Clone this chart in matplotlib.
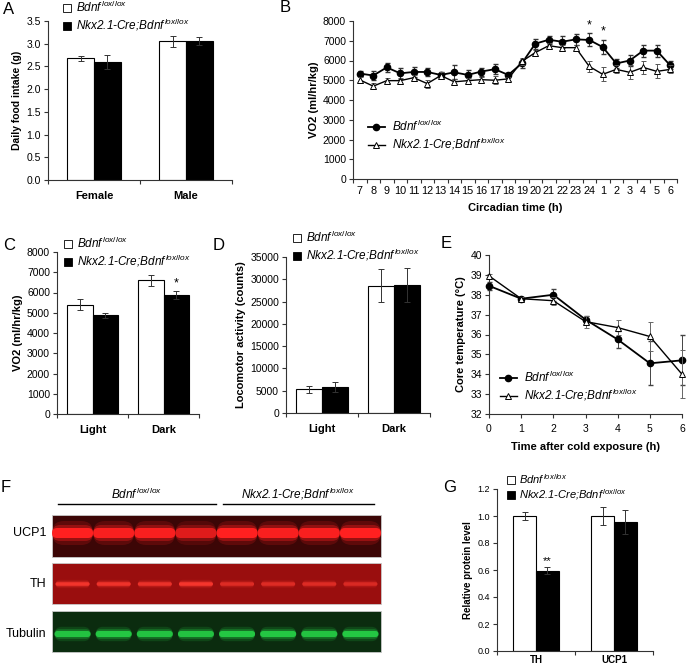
import numpy as np
import matplotlib
matplotlib.use('Agg')
import matplotlib.pyplot as plt
from matplotlib.lines import Line2D
from matplotlib.patches import Rectangle, FancyBboxPatch

plt.rcParams['font.family'] = ['Liberation Sans', 'DejaVu Sans']
plt.rcParams['mathtext.fontset'] = 'custom'
plt.rcParams['mathtext.rm'] = 'Liberation Sans'
plt.rcParams['mathtext.it'] = 'Liberation Sans:italic'
plt.rcParams['mathtext.bf'] = 'Liberation Sans:bold'
plt.rcParams['mathtext.default'] = 'it'

WT = 'Bdnf$^{\\,lox/lox}$'
KO = 'Nkx2.1-Cre;Bdnf$^{\\,lox/lox}$'

# A - daily food intake
food_groups = ['Female', 'Male']
food_wt = [2.68, 3.05]
food_wt_err = [0.06, 0.12]
food_ko = [2.60, 3.06]
food_ko_err = [0.16, 0.09]

# B - VO2 over circadian time
circ_hours = ['7', '8', '9', '10', '11', '12', '13', '14', '15', '16', '17', '18',
              '19', '20', '21', '22', '23', '24', '1', '2', '3', '4', '5', '6']
vo2_wt = [5340, 5240, 5650, 5350, 5420, 5420, 5270, 5400, 5270, 5440, 5560, 5270,
          5850, 6850, 7050, 6950, 7070, 7040, 6680, 5850, 6000, 6500, 6500, 5750]
vo2_wt_err = [150, 250, 230, 280, 250, 200, 150, 350, 250, 200, 250, 120,
              250, 250, 200, 300, 280, 330, 350, 250, 300, 300, 300, 200]
vo2_ko = [5020, 4700, 4980, 4980, 5130, 4830, 5240, 4920, 4980, 5030, 5000, 5070,
          5950, 6400, 6750, 6650, 6650, 5700, 5300, 5550, 5400, 5650, 5450, 5550]
vo2_ko_err = [150, 150, 120, 150, 150, 200, 200, 150, 150, 150, 200, 100,
              200, 150, 150, 150, 150, 300, 350, 200, 350, 350, 350, 200]
vo2_sig = ['24', '1']

# C - VO2 light / dark
periods = ['Light', 'Dark']
vo2_mean_wt = [5400, 6600]
vo2_mean_wt_err = [280, 280]
vo2_mean_ko = [4880, 5870]
vo2_mean_ko_err = [130, 180]

# D - locomotor activity
loco_wt = [5300, 28600]
loco_wt_err = [800, 3600]
loco_ko = [5800, 28700]
loco_ko_err = [1100, 3900]

# E - core temperature after cold exposure
cold_hours = [0, 1, 2, 3, 4, 5, 6]
temp_wt = [38.45, 37.8, 38.0, 36.75, 35.75, 34.55, 34.7]
temp_wt_err = [0.2, 0.1, 0.3, 0.2, 0.45, 1.1, 1.25]
temp_ko = [38.95, 37.8, 37.7, 36.65, 36.35, 35.9, 34.0]
temp_ko_err = [0.1, 0.1, 0.2, 0.3, 0.4, 0.75, 1.2]

# F - western blot band intensities (8 lanes)
blot_rows = ['UCP1', 'TH', 'Tubulin']
ucp1_bands = [1.0, 0.95, 0.95, 0.75, 1.0, 0.95, 0.95, 1.0]
th_bands = [0.8, 0.75, 0.7, 0.85, 0.55, 0.55, 0.55, 0.5]
tubulin_bands = [0.9, 0.95, 0.9, 0.9, 0.95, 0.95, 0.9, 0.95]

# G - relative protein level
proteins = ['TH', 'UCP1']
prot_wt = [1.0, 1.0]
prot_wt_err = [0.03, 0.065]
prot_ko = [0.595, 0.955]
prot_ko_err = [0.025, 0.09]

W, H = 688, 667
fig = plt.figure(figsize=(W / 100, H / 100), dpi=100)


def box(x0, y0, x1, y1):
    return [x0 / W, 1 - y1 / H, (x1 - x0) / W, (y1 - y0) / H]


def fpt(x, y):
    return (x / W, 1 - y / H)


def style(ax):
    for s in ['top', 'right']:
        ax.spines[s].set_visible(False)
    for s in ['left', 'bottom']:
        ax.spines[s].set_color('#333333')
        ax.spines[s].set_linewidth(0.8)
    ax.tick_params(axis='both', labelsize=7.5, direction='out', length=3,
                   width=0.8, color='#333333', pad=2)


def add_legend(ax, handles, x, y, size=8.5, hlen=0.7, hpad=0.4):
    ax.legend(handles, [WT, KO], loc='upper left', bbox_to_anchor=fpt(x, y),
              bbox_transform=fig.transFigure, frameon=False,
              prop={'size': size, 'style': 'italic'},
              handlelength=hlen, handletextpad=hpad, labelspacing=0.15,
              borderpad=0, borderaxespad=0)


def square_legend(ax, x, y, size=8.5):
    hs = [Line2D([], [], marker='s', ls='none', mfc='white', mec='black', ms=5.5, mew=0.6),
          Line2D([], [], marker='s', ls='none', mfc='black', mec='black', ms=5.5, mew=0.6)]
    add_legend(ax, hs, x, y, size)


def line_legend(ax, x, y):
    hs = [Line2D([], [], color='black', lw=1.3, marker='o', ms=4.5),
          Line2D([], [], color='black', lw=1.0, marker='^', ms=4.5, mfc='white',
                 mec='black', mew=0.7)]
    add_legend(ax, hs, x, y, hlen=1.4, hpad=0.6)


def bar_panel(ax, cats, wt, wt_err, ko, ko_err, width):
    x = np.arange(len(cats))
    ekw = dict(elinewidth=0.7, capsize=2, capthick=0.7, ecolor='#333333')
    ax.bar(x - width / 2, wt, width, yerr=wt_err, color='white', edgecolor='black',
           lw=0.8, error_kw=ekw)
    ax.bar(x + width / 2, ko, width, yerr=ko_err, color='black', edgecolor='black',
           lw=0.8, error_kw=ekw)
    style(ax)
    ax.set_xlim(-0.5, len(cats) - 0.5)
    ax.set_xticks(x, cats, fontweight='bold', fontsize=8)
    ax.set_xticks(np.arange(len(cats) + 1) - 0.5, minor=True)
    ax.tick_params(axis='x', which='major', length=0, pad=8)
    ax.tick_params(axis='x', which='minor', length=3, width=0.8, color='#333333')


def letter(x, y, s):
    fig.text(*fpt(x, y), s, fontsize=12, ha='center', va='center')


# ---- A ----
axA = fig.add_axes(box(48, 21, 232, 180))
bar_panel(axA, food_groups, food_wt, food_wt_err, food_ko, food_ko_err, 0.29)
axA.set_ylim(0, 3.5)
axA.set_yticks(np.arange(0, 3.51, 0.5))
axA.yaxis.set_major_formatter(matplotlib.ticker.FormatStrFormatter('%.1f'))
axA.set_ylabel('Daily food intake (g)', fontweight='bold', fontsize=7.5, labelpad=3)
square_legend(axA, 63, 0)
letter(9, 9, 'A')

# ---- B ----
axB = fig.add_axes(box(353, 21, 677, 179))
xb = np.arange(len(circ_hours))
axB.errorbar(xb, vo2_wt, yerr=vo2_wt_err, color='black', lw=1.3, marker='o', ms=4.5,
             elinewidth=0.7, capsize=1.8, ecolor='#333333', clip_on=False, zorder=3)
axB.errorbar(xb, vo2_ko, yerr=vo2_ko_err, color='black', lw=1.0, marker='^', ms=4.5,
             mfc='white', mec='black', mew=0.7, elinewidth=0.7, capsize=1.8,
             ecolor='#555555', clip_on=False, zorder=4)
for h in vo2_sig:
    i = circ_hours.index(h)
    axB.text(i, vo2_wt[i] + vo2_wt_err[i] + 120, '*', ha='center', va='bottom', fontsize=9)
style(axB)
axB.set_xlim(-0.5, len(circ_hours) - 0.5)
axB.set_ylim(0, 8000)
axB.set_yticks(np.arange(0, 8001, 1000))
axB.set_xticks(xb, circ_hours)
axB.set_xticks(np.arange(len(circ_hours) + 1) - 0.5, minor=True)
axB.tick_params(axis='x', which='major', length=0, pad=5, labelsize=7.8)
axB.tick_params(axis='x', which='minor', length=3, width=0.8, color='#333333')
axB.set_ylabel('VO2 (ml/hr/kg)', fontweight='bold', fontsize=8, labelpad=3)
axB.set_xlabel('Circadian time (h)', fontweight='bold', fontsize=8, labelpad=5)
line_legend(axB, 368, 119)
letter(285, 8, 'B')

# ---- C ----
axC = fig.add_axes(box(57, 252, 199, 414))
bar_panel(axC, periods, vo2_mean_wt, vo2_mean_wt_err, vo2_mean_ko, vo2_mean_ko_err, 0.36)
axC.set_ylim(0, 8000)
axC.set_yticks(np.arange(0, 8001, 1000))
axC.text(1 + 0.18, vo2_mean_ko[1] + vo2_mean_ko_err[1] + 100, '*', ha='center',
         va='bottom', fontsize=9)
axC.set_ylabel('VO2 (ml/hr/kg)', fontweight='bold', fontsize=8, labelpad=3)
square_legend(axC, 64, 236)
letter(9, 245, 'C')

# ---- D ----
axD = fig.add_axes(box(286, 257, 430, 413))
bar_panel(axD, periods, loco_wt, loco_wt_err, loco_ko, loco_ko_err, 0.36)
axD.set_ylim(0, 35000)
axD.set_yticks(np.arange(0, 35001, 5000))
axD.set_ylabel('Locomotor activity (counts)', fontweight='bold', fontsize=8, labelpad=3)
square_legend(axD, 293, 230)
letter(219, 245, 'D')

# ---- E ----
axE = fig.add_axes(box(489, 255, 682, 414))
axE.errorbar(cold_hours, temp_wt, yerr=temp_wt_err, color='black', lw=1.3, marker='o',
             ms=4.5, elinewidth=0.7, capsize=1.8, ecolor='#444444',
             clip_on=False, zorder=3)
axE.errorbar(cold_hours, temp_ko, yerr=temp_ko_err, color='black', lw=1.0, marker='^',
             ms=4.5, mfc='white', mec='black', mew=0.7, elinewidth=0.7, capsize=1.8,
             ecolor='#666666', clip_on=False, zorder=4)
style(axE)
axE.set_xlim(0, 6)
axE.set_ylim(32, 40)
axE.set_xticks(cold_hours)
axE.set_yticks(np.arange(32, 41, 1))
axE.tick_params(axis='x', pad=4)
axE.set_ylabel('Core temperature (\u00b0C)', fontweight='bold', fontsize=8, labelpad=3)
axE.set_xlabel('Time after cold exposure (h)', fontweight='bold', fontsize=8, labelpad=6)
line_legend(axE, 500, 370)
letter(446, 243, 'E')

# ---- F (western blot) ----
axF = fig.add_axes([0, 0, 430 / W, 187 / H])
axF.set_xlim(0, 430)
axF.set_ylim(667, 480)
axF.axis('off')
blot_left, blot_right = 52, 381
blot_specs = [
    (ucp1_bands, 515, 557, 533, 10, '#3c0606', '#ff2020', 41),
    (th_bands, 563, 604, 584, 3.5, '#9a0e0e', '#ff3a30', 34),
    (tubulin_bands, 611, 652, 634, 6, '#0b2c0f', '#25cc45', 36),
]
for name, (bands, top, bot, by, bh, bg, bc, bw) in zip(blot_rows, blot_specs):
    axF.add_patch(Rectangle((blot_left, top), blot_right - blot_left, bot - top,
                            facecolor=bg, edgecolor='#c8c8c8', lw=0.6))
    lane = (blot_right - blot_left) / len(bands)
    for i, v in enumerate(bands):
        cx = blot_left + lane * (i + 0.5)
        for grow, a in [(2.4, 0.18), (1.6, 0.35), (1.0, 1.0)]:
            hh = bh * grow
            axF.add_patch(FancyBboxPatch((cx - bw / 2, by - hh / 2), bw, hh,
                                         boxstyle='round,pad=0,rounding_size=%f' % (hh / 2),
                                         facecolor=bc, edgecolor='none', alpha=a * v))
    axF.text(46, by, name, ha='right', va='center', fontsize=9)

axF.plot([58, 216], [504, 504], color='black', lw=1)
axF.plot([223, 374], [504, 504], color='black', lw=1)
axF.text(137, 494, WT, ha='center', va='center', fontsize=8.5, style='italic')
axF.text(298, 494, KO, ha='center', va='center', fontsize=8.5, style='italic')
letter(6, 487, 'F')

# ---- G ----
axG = fig.add_axes(box(497, 489, 653, 651))
bar_panel(axG, proteins, prot_wt, prot_wt_err, prot_ko, prot_ko_err, 0.29)
axG.set_ylim(0, 1.2)
axG.set_yticks(np.arange(0, 1.21, 0.2))
axG.yaxis.set_major_formatter(matplotlib.ticker.FormatStrFormatter('%.1f'))
axG.tick_params(axis='y', labelsize=6.5)
axG.tick_params(axis='x', which='major', labelsize=7, pad=3)
axG.text(0 + 0.145, prot_ko[0] + prot_ko_err[0] + 0.01, '**', ha='center', va='bottom',
         fontsize=8)
axG.set_ylabel('Relative protein level', fontweight='bold', fontsize=7, labelpad=3)
square_legend(axG, 507, 472, size=8)
letter(450, 487, 'G')

fig.savefig('out.png', dpi=100)
